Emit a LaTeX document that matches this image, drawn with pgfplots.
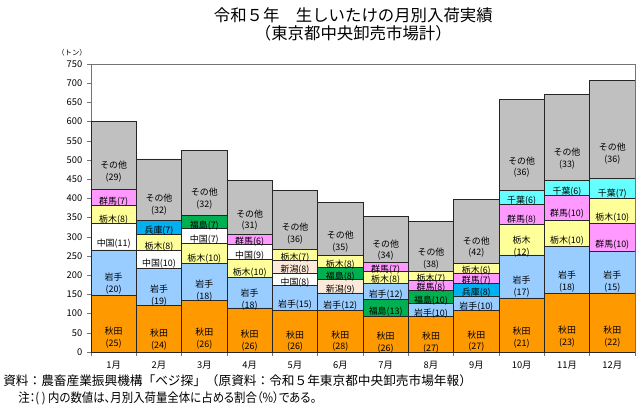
\documentclass[border=0pt]{standalone}
\usepackage{pgfplots}
\pgfplotsset{compat=1.18}
\usepackage{fontspec}
\setmainfont{Noto Sans CJK JP}
\newfontfamily\pfont{Noto Sans CJK JP}[RawFeature=+palt, FakeStretch=0.9]
\definecolor{cAkita}{HTML}{FF9900}
\definecolor{cIwate}{HTML}{99CCFF}
\definecolor{cTochigi}{HTML}{FFFF99}
\definecolor{cGunma}{HTML}{FF99FF}
\definecolor{cHyogo}{HTML}{00B0F0}
\definecolor{cFukushima}{HTML}{00B050}
\definecolor{cNiigata}{HTML}{FDE9D9}
\definecolor{cChugoku}{HTML}{FFFFFF}
\definecolor{cChiba}{HTML}{66FFFF}
\definecolor{cOther}{HTML}{C0C0C0}
\protected\def\two#1#2{\begin{tabular}{@{}c@{}}#1\\#2\end{tabular}}

\begin{document}
\begin{tikzpicture}[x=1pt,y=1pt]
\useasboundingbox (0,0) rectangle (480,306);
\begin{axis}[
    at={(68.25pt,42pt)}, anchor=south west,
    x=34pt, y=0.288pt,
    xmin=0.5, xmax=12.5, ymin=0, ymax=750,
    ybar stacked, bar width=34pt,
    seg/.style={fill=#1, draw=black!85, line width=0.5pt},
    xtick={1,...,12},
    xticklabels={1月,2月,3月,4月,5月,6月,7月,8月,9月,10月,11月,12月},
    major x tick style={draw=none},
    minor xtick={0.5,1.5,...,12.5},
    ytick={0,50,...,750},
    tick align=outside, tick pos=left,
    major tick length=3pt, minor tick length=3pt,
    axis line style={draw=black!55},
    every tick/.style={draw=black!55},
    tick label style={font=\fontsize{7}{8}\selectfont},
    /pgf/number format/assume math mode=true,
    nodes near coords,
    point meta=explicit symbolic,
    visualization depends on=rawy \as \rawy,
    every node near coord/.append style={anchor=center, yshift={-0.072*\rawy},
        font=\fontsize{6.7}{8.8}\selectfont, inner sep=0pt},
]
% layer 1
\addplot[seg=cAkita] coordinates {(1,148)[\two{秋田}{(25)}] (2,121)[\two{秋田}{(24)}] (3,135)[\two{秋田}{(26)}] (4,115)[\two{秋田}{(26)}] (5,108)[\two{秋田}{(26)}] (6,108)[\two{秋田}{(28)}] (7,93)[\two{秋田}{(26)}] (8,93)[\two{秋田}{(27)}] (9,108)[\two{秋田}{(27)}] (10,141)[\two{秋田}{(21)}] (11,152)[\two{秋田}{(23)}] (12,154)[\two{秋田}{(22)}]};
% layer 2
\addplot[seg=cIwate] coordinates {(1,118)[\two{岩手}{(20)}] (2,96)[\two{岩手}{(19)}] (3,96)[\two{岩手}{(18)}] (4,80)[\two{岩手}{(18)}] (5,65)[岩手(15)] (6,46)[岩手(12)] (7,0)[] (8,33)[岩手(10)] (9,38)[岩手(10)] (10,112)[\two{岩手}{(17)}] (11,122)[\two{岩手}{(18)}] (12,108)[\two{岩手}{(15)}]};
\addplot[seg=cFukushima] coordinates {(1,0)[] (2,0)[] (3,0)[] (4,0)[] (5,0)[] (6,0)[] (7,45)[福島(13)] (8,0)[] (9,0)[] (10,0)[] (11,0)[] (12,0)[]};
% layer 3
\addplot[seg=cChugoku] coordinates {(1,68)[中国(11)] (2,48)[中国(10)] (3,0)[] (4,0)[] (5,33)[中国(8)] (6,0)[] (7,0)[] (8,0)[] (9,0)[] (10,0)[] (11,0)[] (12,0)[]};
\addplot[seg=cTochigi] coordinates {(1,0)[] (2,0)[] (3,52)[栃木(10)] (4,46)[栃木(10)] (5,0)[] (6,0)[] (7,0)[] (8,0)[] (9,0)[] (10,79)[\two{栃木}{(12)}] (11,69)[栃木(10)] (12,0)[]};
\addplot[seg=cNiigata] coordinates {(1,0)[] (2,0)[] (3,0)[] (4,0)[] (5,0)[] (6,35)[新潟(9)] (7,0)[] (8,0)[] (9,0)[] (10,0)[] (11,0)[] (12,0)[]};
\addplot[seg=cIwate] coordinates {(1,0)[] (2,0)[] (3,0)[] (4,0)[] (5,0)[] (6,0)[] (7,42)[岩手(12)] (8,0)[] (9,0)[] (10,0)[] (11,0)[] (12,0)[]};
\addplot[seg=cFukushima] coordinates {(1,0)[] (2,0)[] (3,0)[] (4,0)[] (5,0)[] (6,0)[] (7,0)[] (8,34)[福島(10)] (9,0)[] (10,0)[] (11,0)[] (12,0)[]};
\addplot[seg=cHyogo] coordinates {(1,0)[] (2,0)[] (3,0)[] (4,0)[] (5,0)[] (6,0)[] (7,0)[] (8,0)[] (9,32)[兵庫(8)] (10,0)[] (11,0)[] (12,0)[]};
\addplot[seg=cGunma] coordinates {(1,0)[] (2,0)[] (3,0)[] (4,0)[] (5,0)[] (6,0)[] (7,0)[] (8,0)[] (9,0)[] (10,0)[] (11,0)[] (12,72)[群馬(10)]};
% layer 4
\addplot[seg=cTochigi] coordinates {(1,47)[栃木(8)] (2,41)[栃木(8)] (3,0)[] (4,0)[] (5,0)[] (6,0)[] (7,29)[栃木(8)] (8,0)[] (9,0)[] (10,0)[] (11,0)[] (12,66)[栃木(10)]};
\addplot[seg=cChugoku] coordinates {(1,0)[] (2,0)[] (3,38)[中国(7)] (4,39)[中国(9)] (5,0)[] (6,0)[] (7,0)[] (8,0)[] (9,0)[] (10,0)[] (11,0)[] (12,0)[]};
\addplot[seg=cNiigata] coordinates {(1,0)[] (2,0)[] (3,0)[] (4,0)[] (5,32)[新潟(8)] (6,0)[] (7,0)[] (8,0)[] (9,0)[] (10,0)[] (11,0)[] (12,0)[]};
\addplot[seg=cFukushima] coordinates {(1,0)[] (2,0)[] (3,0)[] (4,0)[] (5,0)[] (6,32)[福島(8)] (7,0)[] (8,0)[] (9,0)[] (10,0)[] (11,0)[] (12,0)[]};
\addplot[seg=cGunma] coordinates {(1,0)[] (2,0)[] (3,0)[] (4,0)[] (5,0)[] (6,0)[] (7,0)[] (8,26)[群馬(8)] (9,28)[群馬(7)] (10,52)[群馬(8)] (11,65)[群馬(10)] (12,0)[]};
% layer 5
\addplot[seg=cGunma] coordinates {(1,43)[群馬(7)] (2,0)[] (3,0)[] (4,27)[群馬(6)] (5,0)[] (6,0)[] (7,25)[群馬(7)] (8,0)[] (9,0)[] (10,0)[] (11,0)[] (12,0)[]};
\addplot[seg=cHyogo] coordinates {(1,0)[] (2,36)[兵庫(7)] (3,0)[] (4,0)[] (5,0)[] (6,0)[] (7,0)[] (8,0)[] (9,0)[] (10,0)[] (11,0)[] (12,0)[]};
\addplot[seg=cFukushima] coordinates {(1,0)[] (2,0)[] (3,36)[福島(7)] (4,0)[] (5,0)[] (6,0)[] (7,0)[] (8,0)[] (9,0)[] (10,0)[] (11,0)[] (12,0)[]};
\addplot[seg=cTochigi] coordinates {(1,0)[] (2,0)[] (3,0)[] (4,0)[] (5,30)[栃木(7)] (6,31)[栃木(8)] (7,0)[] (8,24)[栃木(7)] (9,24)[栃木(6)] (10,0)[] (11,0)[] (12,0)[]};
\addplot[seg=cChiba] coordinates {(1,0)[] (2,0)[] (3,0)[] (4,0)[] (5,0)[] (6,0)[] (7,0)[] (8,0)[] (9,0)[] (10,37)[千葉(6)] (11,39)[千葉(6)] (12,51)[千葉(7)]};
% layer 6
\addplot[seg=cOther] coordinates {(1,176)[\two{その他}{(29)}] (2,161)[\two{その他}{(32)}] (3,167)[\two{その他}{(32)}] (4,139)[\two{その他}{(31)}] (5,152)[\two{その他}{(36)}] (6,137)[\two{その他}{(35)}] (7,120)[\two{その他}{(34)}] (8,131)[\two{その他}{(38)}] (9,168)[\two{その他}{(42)}] (10,236)[\two{その他}{(36)}] (11,224)[\two{その他}{(33)}] (12,257)[\two{その他}{(36)}]};
\end{axis}
\node[font=\fontsize{12.3}{14}\selectfont] at (265,294.75) {令和５年　生しいたけの月別入荷実績};
\node[font=\fontsize{12.3}{14}\selectfont] at (265,281.25) {（東京都中央卸売市場計）};
\node[font=\fontsize{5.5}{6}\selectfont] at (54,266.25) {（トン）};
\node[anchor=west, inner sep=0pt, font=\fontsize{9.5}{11}\selectfont] at (2.25,20.25) {資料：農畜産業振興機構「ベジ探」（原資料：令和５年東京都中央卸売市場年報）};
\node[anchor=west, inner sep=0pt, font=\pfont\fontsize{9.5}{11}\selectfont] at (13.5,7.5) {注：( ) 内の数値は、月別入荷量全体に占める割合（\%）である。};
\end{tikzpicture}
\end{document}
